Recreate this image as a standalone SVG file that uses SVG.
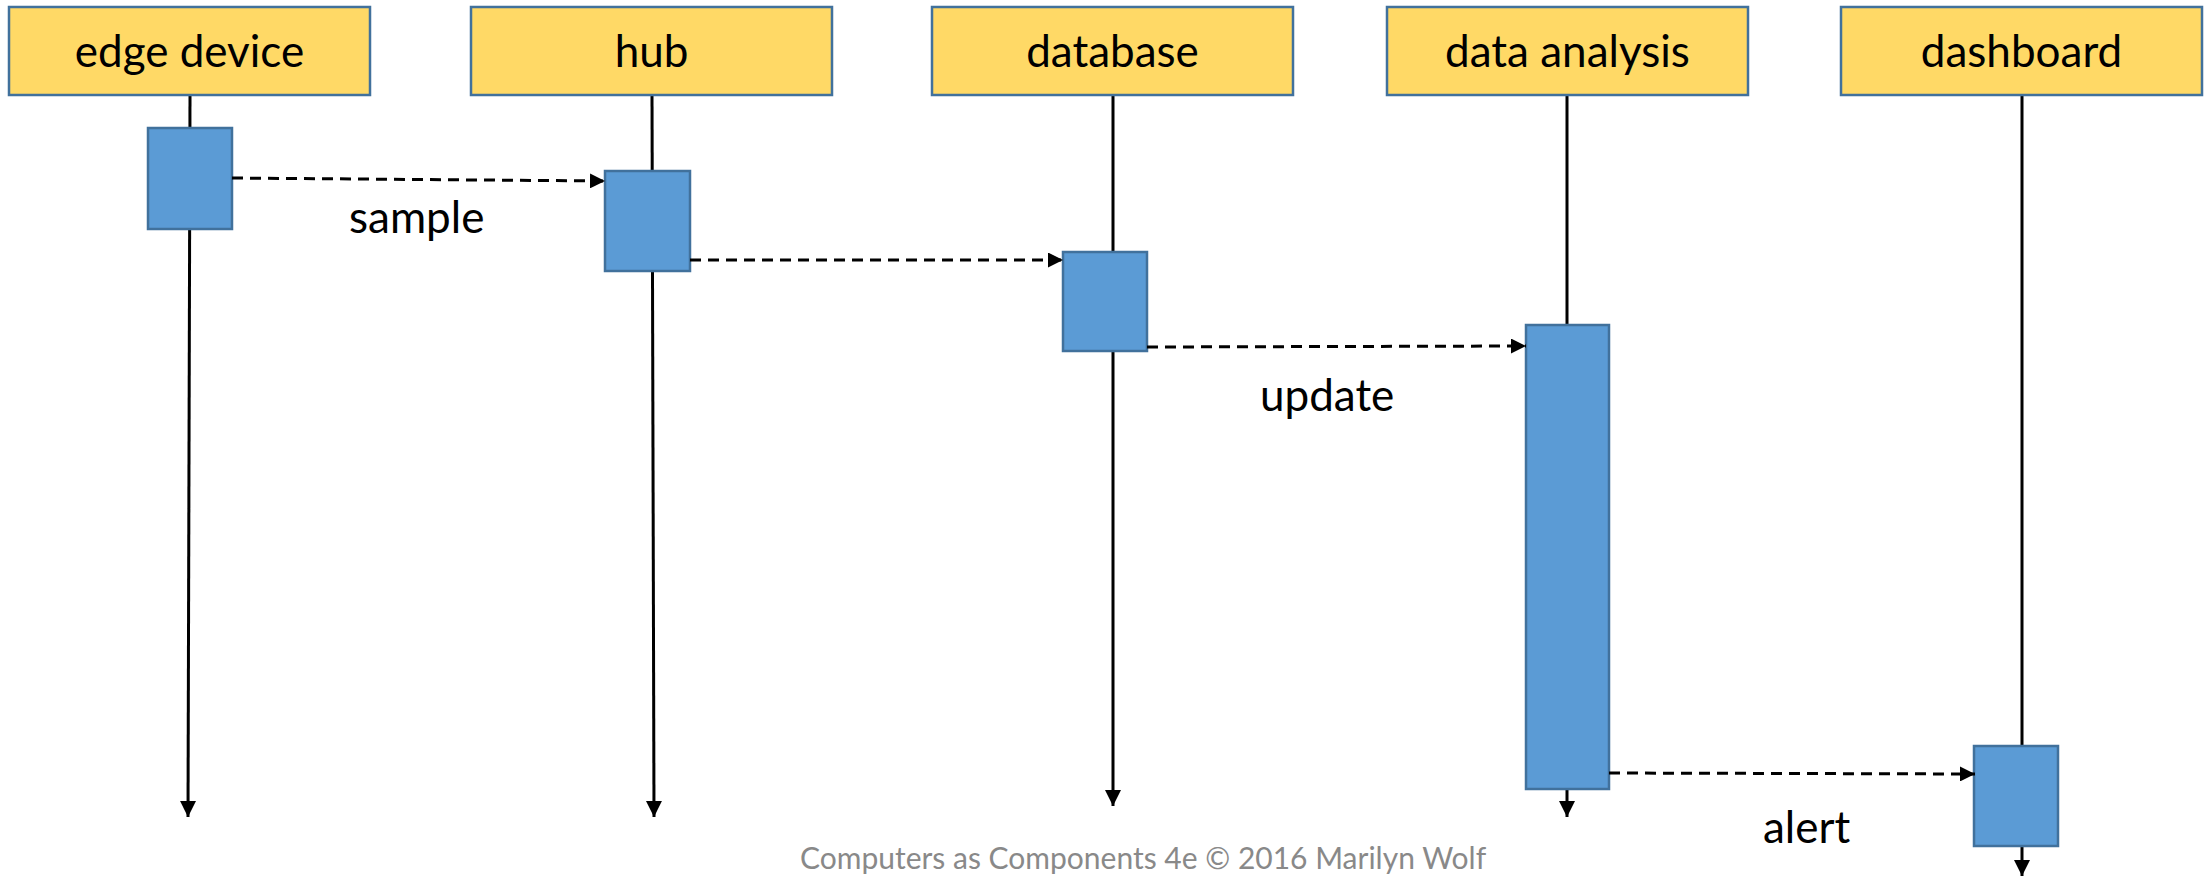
<svg xmlns="http://www.w3.org/2000/svg" width="2206" height="877" viewBox="0 0 2206 877">
  <style>
    .head { fill: #FFD966; stroke: #41719C; stroke-width: 2.5; }
    .act { fill: #5B9BD5; stroke: #41719C; stroke-width: 2.5; }
    .life { stroke: #000; stroke-width: 3; fill: none; marker-end: url(#lifeArrow); }
    .msg { stroke: #000; stroke-width: 3; fill: none; stroke-dasharray: 11 7; marker-end: url(#msgArrow); }
    .title { font-family: Lato, "Open Sans", sans-serif; font-size: 44px; fill: #000; text-anchor: middle; }
    .label { font-family: Lato, "Open Sans", sans-serif; font-size: 44px; fill: #000; }
    .credit { font-family: Lato, "Open Sans", sans-serif; font-size: 30px; fill: #898989; }
  </style>
  <defs>
    <marker id="lifeArrow" markerUnits="userSpaceOnUse" markerWidth="16" markerHeight="16" refX="16" refY="8" orient="auto">
      <path d="M0,0 L16,8 L0,16 z" fill="#000"/>
    </marker>
    <marker id="msgArrow" markerUnits="userSpaceOnUse" markerWidth="15" markerHeight="15" refX="15" refY="7.5" orient="auto">
      <path d="M0,0 L15,7.5 L0,15 z" fill="#000"/>
    </marker>
  </defs>
  <rect width="2206" height="877" fill="#fff"/>

  <!-- participants: header, lifeline, activation bar -->
  <g id="edge-device">
    <line class="life" x1="190" y1="95" x2="188" y2="817"/>
    <rect class="head" x="9" y="7" width="361" height="88"/>
    <text class="title" x="189.5" y="67">edge device</text>
    <rect class="act" x="148" y="128" width="84" height="101"/>
  </g>

  <g id="hub">
    <line class="life" x1="652" y1="95" x2="654" y2="817"/>
    <rect class="head" x="471" y="7" width="361" height="88"/>
    <text class="title" x="651.5" y="67">hub</text>
    <rect class="act" x="605" y="171" width="85" height="100"/>
  </g>

  <g id="database">
    <line class="life" x1="1113" y1="95" x2="1113" y2="806"/>
    <rect class="head" x="932" y="7" width="361" height="88"/>
    <text class="title" x="1112.5" y="67">database</text>
    <rect class="act" x="1063" y="252" width="84" height="99"/>
  </g>

  <g id="data-analysis">
    <line class="life" x1="1567" y1="95" x2="1567" y2="817"/>
    <rect class="head" x="1387" y="7" width="361" height="88"/>
    <text class="title" x="1567.5" y="67">data analysis</text>
    <rect class="act" x="1526" y="325" width="83" height="464"/>
  </g>

  <g id="dashboard">
    <line class="life" x1="2022" y1="95" x2="2022" y2="876"/>
    <rect class="head" x="1841" y="7" width="361" height="88"/>
    <text class="title" x="2021.5" y="67">dashboard</text>
    <rect class="act" x="1974" y="746" width="84" height="100"/>
  </g>

  <!-- messages -->
  <g id="connectors">
    <path class="msg" d="M232,178 L605,181"/>
    <path class="msg" d="M690,260 L1063,260"/>
    <path class="msg" d="M1147,347 L1526,346"/>
    <path class="msg" d="M1609,773 L1975,774"/>
    <text class="label" x="349" y="233">sample</text>
    <text class="label" x="1260" y="411">update</text>
    <text class="label" x="1763" y="843">alert</text>
  </g>

  <text class="credit" x="800" y="869">Computers as Components 4e © 2016 Marilyn Wolf</text>
</svg>
